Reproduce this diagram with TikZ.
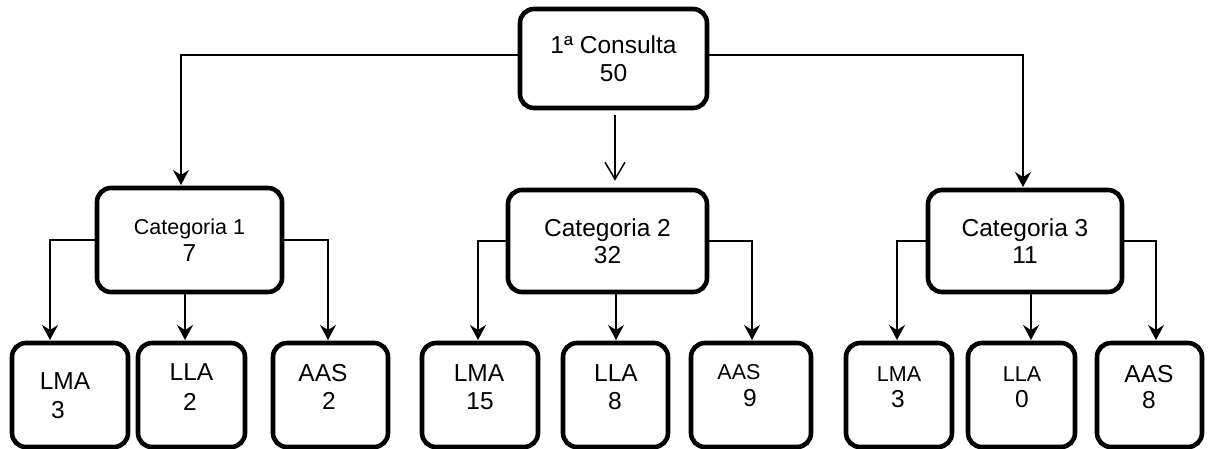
\documentclass[tikz,border=0pt]{standalone}
\usepackage{fontspec}
\setmainfont{Liberation Sans}
\usetikzlibrary{arrows.meta}
\newcommand\bigf{\fontsize{24.5}{27.5}\selectfont}
\newcommand\smallf{\fontsize{21.5}{27.5}\selectfont}
\begin{document}
\begin{tikzpicture}[x=1pt,y=-1pt,
  box/.style={draw, line width=4.6pt, rounded corners=14pt, fill=white, inner sep=0pt, align=center, font=\bigf},
  lbl/.style={inner sep=0pt, anchor=center, font=\bigf},
  slbl/.style={inner sep=0pt, anchor=center, font=\smallf},
  conn/.style={line width=1.5pt, -{Stealth[length=15pt,width=16pt,inset=5pt]}},
  openconn/.style={line width=1.5pt, -{Straight Barb[length=17pt,width=20pt]}}
]
\useasboundingbox (0,0) rectangle (1208,449);

% top
\node[box, minimum width=187pt, minimum height=99pt] (top) at (613.5,58.5) {1ª Consulta\\50};
% categories
\node[box, minimum width=185pt, minimum height=104pt] (c1) at (189.5,240) {{\smallf Categoria 1}\\7};
\node[box, minimum width=199pt, minimum height=102pt] (c2) at (607.5,241) {Categoria 2\\32};
\node[box, minimum width=194pt, minimum height=102pt] (c3) at (1025,241) {Categoria 3\\11};

% leaves
\node[box, minimum width=116pt, minimum height=104pt] (l1a) at (70,395) {};
\node[box, minimum width=107pt, minimum height=104pt] (l1b) at (191.5,395) {};
\node[box, minimum width=115pt, minimum height=104pt] (l1c) at (330.5,395) {};
\node[box, minimum width=116pt, minimum height=104pt] (l2a) at (480,395) {};
\node[box, minimum width=105pt, minimum height=104pt] (l2b) at (615.5,395) {};
\node[box, minimum width=120pt, minimum height=104pt] (l2c) at (751,395) {};
\node[box, minimum width=106pt, minimum height=104pt] (l3a) at (899,395) {};
\node[box, minimum width=107pt, minimum height=104pt] (l3b) at (1021.5,395) {};
\node[box, minimum width=105pt, minimum height=104pt] (l3c) at (1149.5,395) {};

% leaf texts
\node[lbl] (t1a) at (65,381) {LMA};
\node[lbl] (n1a) at (58,410) {3};
\node[lbl] (t1b) at (191.5,372) {LLA};
\node[lbl] (n1b) at (190,402) {2};
\node[lbl] (t1c) at (323,373) {AAS};
\node[lbl] (n1c) at (329,401) {2};
\node[lbl] (t2a) at (479,373) {LMA};
\node[lbl] (n2a) at (480,401) {15};
\node[lbl] (t2b) at (616,373) {LLA};
\node[lbl] (n2b) at (615,401) {8};
\node[slbl] (t2c) at (739,372) {AAS};
\node[lbl] (n2c) at (750,398) {9};
\node[slbl] (t3a) at (899,374) {LMA};
\node[lbl] (n3a) at (898,399) {3};
\node[slbl] (t3b) at (1022,374) {LLA};
\node[lbl] (n3b) at (1022,399) {0};
\node[lbl] (t3c) at (1149,374) {AAS};
\node[lbl] (n3c) at (1149,400) {8};

% connector targets
\coordinate (in1) at (181,188);
\coordinate (in3) at (1023,190);
\coordinate (a1) at (50,343);
\coordinate (b1) at (185,343);
\coordinate (c1in) at (328,343);
\coordinate (a2) at (478,343);
\coordinate (b2) at (616,343);
\coordinate (c2in) at (752,343);
\coordinate (a3) at (897,343);
\coordinate (b3) at (1031,343);
\coordinate (c3in) at (1156,343);

% top connectors
\draw[conn, shorten >=3pt] ([yshift=3.5pt]top.west) -| (in1);
\draw[conn, shorten >=3pt] ([yshift=3.5pt]top.east) -| (in3);
\draw[openconn, shorten <=5pt, shorten >=7pt] ([xshift=1.5pt]top.south) -- ([xshift=1.5pt]top.south |- c2.north);

% category 1
\draw[conn, shorten >=3pt] (c1.west) -| (a1);
\draw[conn, shorten >=3pt] (c1.south -| b1) -- (b1);
\draw[conn, shorten >=3pt] (c1.east) -| (c1in);
% category 2
\draw[conn, shorten >=3pt] (c2.west) -| (a2);
\draw[conn, shorten >=3pt] (c2.south -| b2) -- (b2);
\draw[conn, shorten >=3pt] (c2.east) -| (c2in);
% category 3
\draw[conn, shorten >=3pt] (c3.west) -| (a3);
\draw[conn, shorten >=3pt] (c3.south -| b3) -- (b3);
\draw[conn, shorten >=3pt] (c3.east) -| (c3in);
\end{tikzpicture}
\end{document}
